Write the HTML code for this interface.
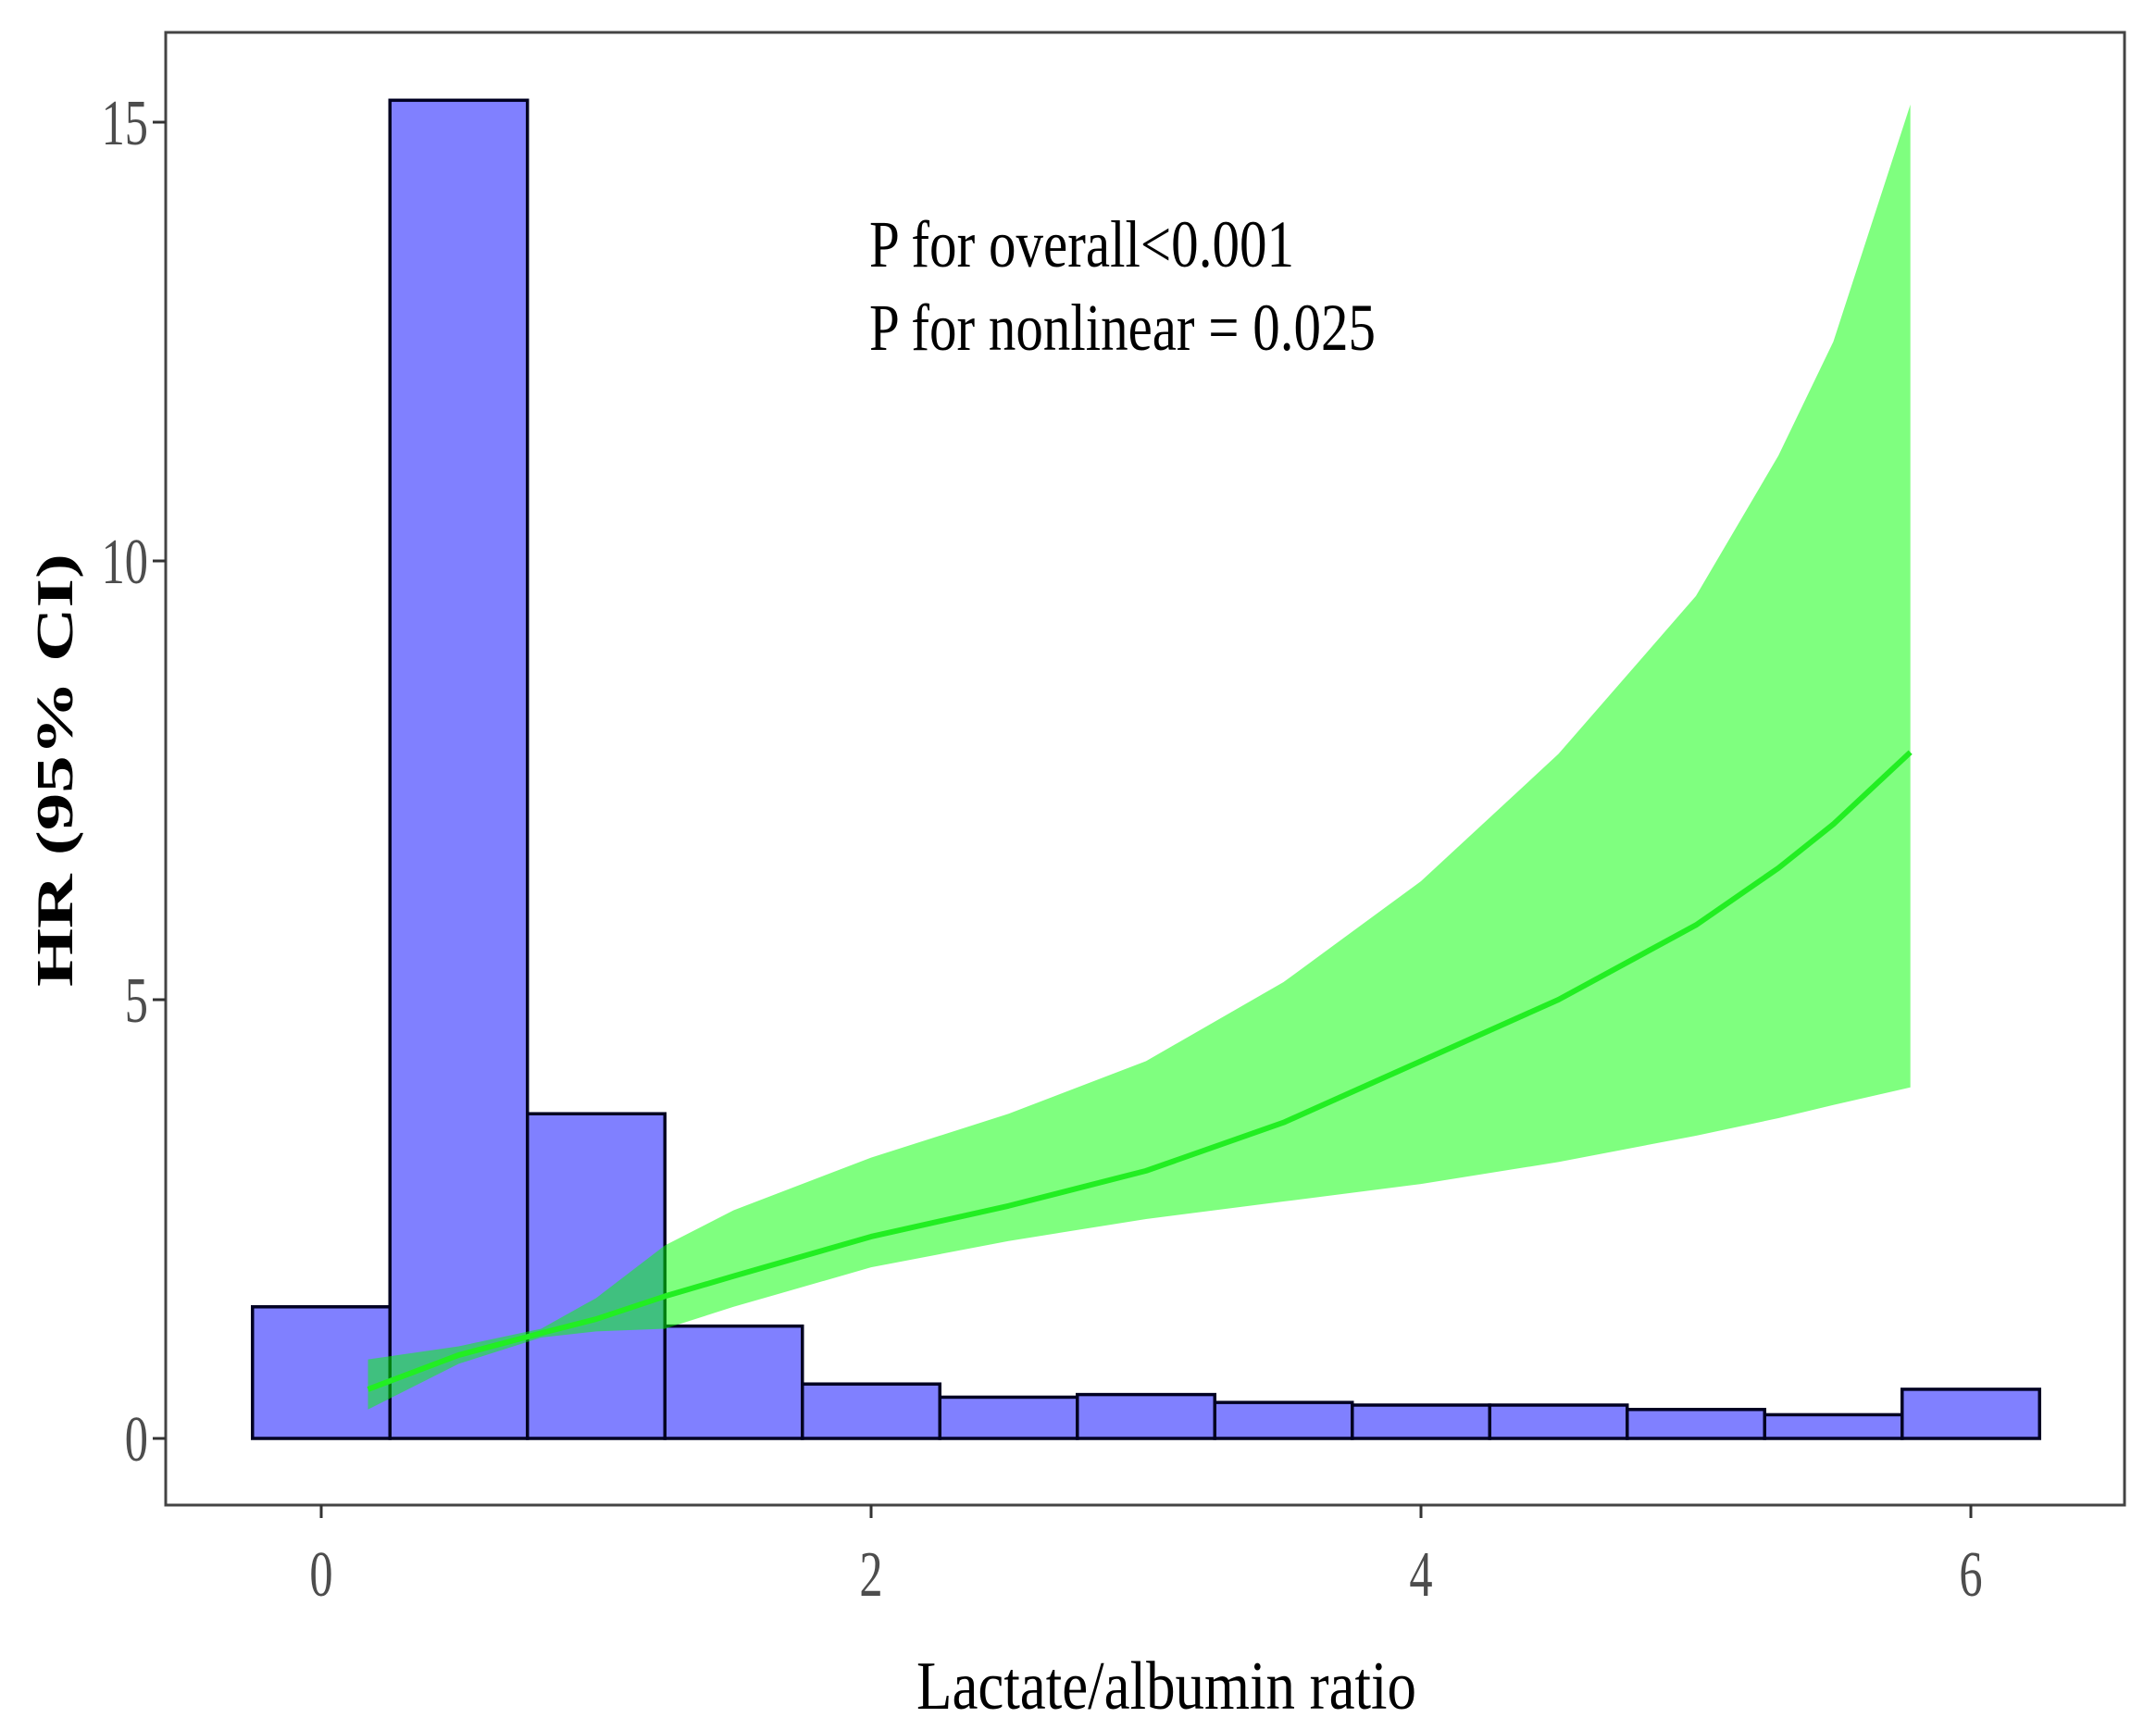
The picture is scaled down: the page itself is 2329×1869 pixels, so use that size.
<!DOCTYPE html>
<html><head><meta charset="utf-8"><style>html,body{margin:0;padding:0;background:#fff}svg{display:block}</style></head>
<body>
<svg id="chart" width="2329" height="1869" viewBox="0 0 2329 1869" xmlns="http://www.w3.org/2000/svg" font-family="'Liberation Serif', serif">
<rect x="0" y="0" width="2329" height="1869" fill="#fff"/>
<g id="bars"></g>
<g id="band"></g>
<g id="axes"></g>
<text x="939" y="288" font-size="72" textLength="459" lengthAdjust="spacingAndGlyphs" fill="#000">P for overall&lt;0.001</text>
<text x="939" y="378" font-size="72" textLength="547" lengthAdjust="spacingAndGlyphs" fill="#000">P for nonlinear = 0.025</text>
<text x="1260" y="1846" font-size="74" text-anchor="middle" textLength="540" lengthAdjust="spacingAndGlyphs" fill="#000">Lactate/albumin ratio</text>
<text transform="translate(78,832) rotate(-90)" font-size="56" font-weight="bold" text-anchor="middle" textLength="468" lengthAdjust="spacingAndGlyphs" fill="#000">HR (95% CI)</text>
</svg>
<script>
const binStarts = [-0.25,0.25,0.75,1.25,1.75,2.25,2.75,3.25,3.75,4.25,4.75,5.25,5.75];
const binHeights = [1.5,15.25,3.7,1.28,0.62,0.47,0.5,0.41,0.38,0.38,0.33,0.27,0.56];
const binWidth = 0.5;
const curveX = [0.17,0.5,0.8,1.0,1.25,1.5,2.0,2.5,3.0,3.5,4.0,4.5,5.0,5.3,5.5,5.78];
const curveY = [0.56,0.95,1.2,1.36,1.62,1.85,2.3,2.65,3.05,3.6,4.3,5.0,5.85,6.5,7.0,7.82];
const upperY = [0.9,1.05,1.25,1.6,2.2,2.6,3.2,3.7,4.3,5.2,6.35,7.8,9.6,11.2,12.5,15.2];
const lowerY = [0.33,0.85,1.15,1.22,1.25,1.5,1.95,2.25,2.5,2.7,2.9,3.15,3.45,3.65,3.8,4.0];
const xTicks = [0,2,4,6];
const yTicks = [0,5,10,15];

const NS='http://www.w3.org/2000/svg';
const X0=347, XS=297, Y0=1554, YS=94.8;
const sx=v=>X0+v*XS, sy=v=>Y0-v*YS;
function mk(tag,attrs,parent){const e=document.createElementNS(NS,tag);for(const k in attrs)e.setAttribute(k,attrs[k]);parent.appendChild(e);return e;}

const bars=document.getElementById('bars');
binStarts.forEach((b,i)=>{
  const r=mk('rect',{x:sx(b),y:sy(binHeights[i]),width:binWidth*XS,height:binHeights[i]*YS,fill:'#8080ff',stroke:'#000022','stroke-width':3.5},bars);
  
  
});

const band=document.getElementById('band');
let d='M'+curveX.map((x,i)=>sx(x)+','+sy(upperY[i])).join(' L');
for(let i=curveX.length-1;i>=0;i--) d+=' L'+sx(curveX[i])+','+sy(lowerY[i]);
d+=' Z';
const bp=mk('path',{d:d,fill:'#00ff00','fill-opacity':0.5,stroke:'none'},band);


const lp=mk('polyline',{points:curveX.map((x,i)=>sx(x)+','+sy(curveY[i])).join(' '),fill:'none',stroke:'#22ee22','stroke-width':6,'stroke-linejoin':'round'},band);



const axes=document.getElementById('axes');
const frame=mk('rect',{x:179,y:35,width:2116,height:1591,fill:'none',stroke:'#444','stroke-width':3},axes);


xTicks.forEach(t=>{
  const l=mk('line',{x1:sx(t),x2:sx(t),y1:1626,y2:1640,stroke:'#333','stroke-width':3},axes);
  
  
  const tx=mk('text',{x:sx(t),y:1724,'font-size':70,'text-anchor':'middle',fill:'#4d4d4d',transform:`translate(${sx(t)},0) scale(0.72,1) translate(${-sx(t)},0)`},axes);
  tx.textContent=t;
  
  
});
yTicks.forEach(t=>{
  const l=mk('line',{x1:165,x2:179,y1:sy(t),y2:sy(t),stroke:'#333','stroke-width':3},axes);
  
  
  const tx=mk('text',{x:160,y:sy(t)+24,'font-size':70,'text-anchor':'end',fill:'#4d4d4d',transform:`translate(160,0) scale(0.72,1) translate(-160,0)`},axes);
  tx.textContent=t;
  
  
});
</script>
</body></html>
